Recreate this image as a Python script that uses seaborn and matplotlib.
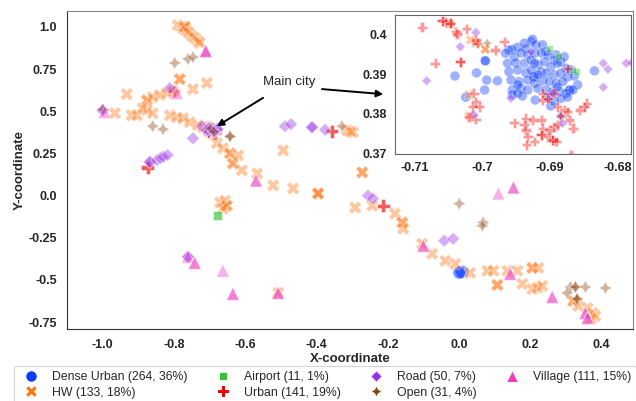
import numpy as np
import pandas as pd
import matplotlib
matplotlib.use("Agg")
import matplotlib.pyplot as plt
import seaborn as sns

# category labels as they appear in the legend
categories = ["Dense Urban (264, 36%)", "HW (133, 18%)", "Airport (11, 1%)", "Urban (141, 19%)",
              "Road (50, 7%)", "Open (31, 4%)", "Village (111, 15%)"]
colors = ["#0a3cff", "#ff7412", "#2ec52e", "#f00000", "#9630e6", "#8b4513", "#ec3cc0"]

# Dense Urban - almost all inside the main city cluster
dense_x = [-0.6996, -0.6996, -0.7041, -0.7025, -0.7009, -0.6994, -0.6978, -0.6997, -0.6922, -0.6899,
           -0.6834, -0.6924, -0.6924, -0.6871, -0.6871,
           -0.6948, -0.6938, -0.6928, -0.6926, -0.6936, -0.6921, -0.6911, -0.6906, -0.6891, -0.6956,
           -0.6961, -0.6966, -0.6953, -0.6943, -0.6933, -0.6923, -0.6913, -0.6903, -0.6894, -0.6884,
           -0.6879, -0.6963, -0.6951, -0.6938, -0.6928, -0.6918, -0.6908, -0.6899, -0.6889, -0.6876,
           -0.6869, -0.6961, -0.6948, -0.6936, -0.6913, -0.6906, -0.6894, -0.6884, -0.6874, -0.6864,
           -0.6958, -0.6946, -0.6933, -0.6923, -0.6911, -0.6901, -0.6891, -0.6881, -0.6859, -0.6956,
           -0.6943, -0.6933, -0.6918, -0.6906, -0.6896, -0.6886, -0.6876, -0.6866, -0.6956, -0.6948,
           -0.6941, -0.6903, -0.6894, -0.6884, -0.6874, -0.6889, -0.6923, -0.6928, -0.6918, -0.6948,
           0.008, 0.008, 0.003, 0.0]
dense_y = [0.3933, 0.3933, 0.3895, 0.3842, 0.3903, 0.3885, 0.3883, 0.3860, 0.3835, 0.3820,
           0.3908, 0.3893, 0.3893, 0.3860, 0.3860,
           0.3967, 0.3977, 0.3981, 0.3987, 0.3964, 0.3973, 0.3973, 0.3956, 0.3948, 0.3962,
           0.3960, 0.3952, 0.3943, 0.3953, 0.3948, 0.3952, 0.3953, 0.3948, 0.3935, 0.3931,
           0.3943, 0.3927, 0.3928, 0.3927, 0.3935, 0.3923, 0.3931, 0.3918, 0.3927, 0.3914,
           0.3910, 0.3906, 0.3910, 0.3903, 0.3906, 0.3902, 0.3898, 0.3902, 0.3893, 0.3895,
           0.3885, 0.3881, 0.3885, 0.3877, 0.3883, 0.3881, 0.3877, 0.3881, 0.3873, 0.3860,
           0.3864, 0.3860, 0.3864, 0.3860, 0.3856, 0.3856, 0.3852, 0.3860, 0.3848, 0.3852,
           0.3845, 0.3843, 0.3831, 0.3839, 0.3842, 0.3868, 0.3927, 0.3910, 0.3898, 0.3873,
           -0.452, -0.452, -0.455, -0.458]

hw_x = [-0.79, -0.778, -0.772, -0.77, -0.77, -0.764, -0.758, -0.75, -0.742, -0.733, -0.728,
        -0.784, -0.784, -0.708, -0.747, -0.933, -0.876, -0.876, -0.86, -0.84, -0.82, -0.803,
        -0.966, -0.919, -0.904, -0.876, -0.86, -0.888, -0.812, -0.792, -0.775, -0.756, -0.733, -0.719,
        -0.68, -0.663, -0.643, -0.643, -0.635, -0.635, -0.62, -0.61, -0.567, -0.522, -0.466,
        -0.396, -0.396, -0.396, -0.494, -0.315, -0.298, -0.305, -0.272, -0.272, -0.292, -0.244,
        -0.18, -0.16, -0.16, -0.157, -0.671, -0.657, -0.652, -0.652, -0.663, -0.508,
        -0.104, -0.076, -0.039, -0.011, 0.031, 0.079, 0.096, 0.135, 0.163, 0.205, 0.205, 0.222,
        0.107, 0.107, 0.177, 0.205, 0.219, 0.233, 0.32, 0.32, 0.334, 0.36, 0.374, 0.382, 0.37,
        -0.7048, -0.7018, -0.7010, -0.6996, -0.6996, -0.7020, -0.7020]
hw_y = [1.01, 1.0, 0.988, 1.0, 1.0, 0.976, 0.964, 0.946, 0.935, 0.917, 0.905,
        0.69, 0.69, 0.667, 0.631, 0.601, 0.565, 0.565, 0.583, 0.595, 0.607, 0.619,
        0.488, 0.476, 0.476, 0.506, 0.488, 0.518, 0.476, 0.464, 0.458, 0.435, 0.417, 0.405,
        0.31, 0.28, 0.25, 0.25, 0.19, 0.19, 0.238, 0.149, 0.131, 0.06, 0.042,
        0.012, 0.012, 0.012, 0.268, 0.387, 0.375, 0.38, 0.137, 0.137, -0.071, -0.06,
        -0.107, -0.16, -0.16, -0.196, -0.042, -0.03, -0.06, -0.06, -0.077, -0.577,
        -0.286, -0.345, -0.387, -0.405, -0.458, -0.446, -0.446, -0.446, -0.446, -0.429, -0.429, -0.429,
        -0.53, -0.53, -0.524, -0.554, -0.548, -0.536, -0.625, -0.625, -0.655, -0.667, -0.696, -0.714, -0.73,
        0.4025, 0.3985, 0.3977, 0.3962, 0.3962, 0.3848, 0.3795]

airport_x = [-0.6901, -0.6888, -0.6866, -0.6861, -0.677, -0.677]
airport_y = [0.3964, 0.3943, 0.3910, 0.3906, -0.119, -0.119]

urban_x = [-0.874, -0.874, -0.357, -0.357, -0.213, -0.213, -0.8,
           -0.7090, -0.7060, -0.7060, -0.7055, -0.7048, -0.7048, -0.7040, -0.7038, -0.7024, -0.7010,
           -0.7008, -0.6968, -0.6981, -0.7033, -0.7033, -0.7070, -0.7013, -0.7010, -0.7015, -0.7005,
           -0.7020, -0.7010, -0.6953, -0.6936, -0.6938, -0.6936, -0.6933, -0.6935, -0.6923, -0.6926,
           -0.6913, -0.6911, -0.6913, -0.6913, -0.6903, -0.6896, -0.6896, -0.6891, -0.6901, -0.6894,
           -0.6889, -0.6884, -0.6879, -0.6874, -0.6871, -0.6866, -0.6856, -0.6846, -0.6849, -0.6911,
           -0.6911, -0.6903, -0.6894, -0.6889, -0.6869, -0.6874]
urban_y = [0.167, 0.167, 0.381, 0.381, -0.06, -0.06, 0.62,
           0.4017, 0.4033, 0.4033, 0.4031, 0.4027, 0.4027, 0.4006, 0.4000, 0.4013, 0.3985,
           0.3977, 0.3981, 0.3960, 0.3931, 0.3931, 0.3927, 0.3852, 0.3831, 0.3818, 0.3818,
           0.3793, 0.3787, 0.3778, 0.3789, 0.3773, 0.3760, 0.3743, 0.3723, 0.3731, 0.3785,
           0.3785, 0.3764, 0.3748, 0.3748, 0.3743, 0.3735, 0.3735, 0.3731, 0.3760, 0.3768,
           0.3773, 0.3793, 0.3810, 0.3806, 0.3785, 0.3764, 0.3810, 0.3827, 0.3818, 0.3852,
           0.3835, 0.3839, 0.3852, 0.3818, 0.3698, 0.3914]

road_x = [-1.0, -1.0, -0.812, -0.747, -0.868, -0.868, -0.848, -0.838, -0.83, -0.818, -0.722,
          -0.489, -0.472, -0.413, -0.413, -0.376, -0.256, -0.242, -0.042, -0.017, -0.761, -0.761,
          -0.7010, -0.7033, -0.7083, -0.6821, -0.6814, -0.6787, -0.6779, -0.6821, -0.6958,
          -0.6896, -0.6884, -0.6881, -0.7013, -0.6928]
road_y = [0.506, 0.506, 0.637, 0.339, 0.196, 0.2, 0.21, 0.222, 0.23, 0.24, 0.411,
          0.411, 0.423, 0.405, 0.405, 0.39, 0.0, -0.018, -0.268, -0.256, -0.363, -0.363,
          0.4004, 0.3968, 0.3883, 0.3927, 0.3912, 0.3927, 0.3928, 0.3867, 0.3839,
          0.3852, 0.3795, 0.3777, 0.3798, 0.3956]

open_x = [-0.798, -0.761, -0.747, -0.86, -0.831, -0.643, -0.643, -0.329, 0.0, 0.067, 0.065,
          0.312, 0.326, 0.326, 0.354, 0.41, 0.303, 0.331, 0.331, -1.0, -0.6993, -0.6884]
open_y = [0.786, 0.81, 0.821, 0.411, 0.393, 0.351, 0.351, 0.411, -0.048, -0.16, -0.179,
          -0.542, -0.542, -0.542, -0.542, -0.548, -0.577, -0.613, -0.613, 0.51, 0.3977, 0.3795]

village_x = [-0.711, -0.711, -0.711, -0.792, -0.995, -0.57, -0.57, -0.761, -0.742, -0.742, -0.663,
             -0.635, -0.635, -0.508, -0.508, 0.11, 0.152, 0.152, -0.101, -0.101, 0.143, 0.143,
             0.261, 0.261, 0.354, 0.354, 0.36, 0.36]
village_y = [0.857, 0.857, 0.857, 0.607, 0.495, 0.089, 0.089, -0.363, -0.399, -0.399, -0.446,
             -0.583, -0.583, -0.577, -0.577, 0.012, 0.048, 0.048, -0.298, -0.298, -0.464, -0.464,
             -0.601, -0.601, -0.696, -0.696, -0.726, -0.726]

xs = [dense_x, hw_x, airport_x, urban_x, road_x, open_x, village_x]
ys = [dense_y, hw_y, airport_y, urban_y, road_y, open_y, village_y]
df = pd.concat([pd.DataFrame({"x": a, "y": b, "Type": c}) for a, b, c in zip(xs, ys, categories)],
               ignore_index=True)

sns.set_style("white")
plt.rcParams["font.family"] = ["Liberation Sans", "DejaVu Sans"]
plt.rcParams["axes.unicode_minus"] = False

fig = plt.figure(figsize=(6.36, 4.01), dpi=100)
ax = fig.add_axes([0.105, 0.18, 0.89, 0.793])
pal = dict(zip(categories, colors))

sns.scatterplot(data=df, x="x", y="y", hue="Type", style="Type", hue_order=categories,
                style_order=categories, palette=pal, s=85, alpha=0.4, ax=ax)
ax.set_xlim(-1.101, 0.487)
ax.set_ylim(-0.79, 1.095)
xt = [-1.0, -0.8, -0.6, -0.4, -0.2, 0.0, 0.2, 0.4]
yt = [-0.75, -0.5, -0.25, 0.0, 0.25, 0.5, 0.75, 1.0]
ax.set_xticks(xt)
ax.set_xticklabels([f"{v:.1f}" for v in xt], fontweight="bold", fontsize=9)
ax.set_yticks(yt)
ax.set_yticklabels(["-0.75", "-0.5", "-0.25", "0.0", "0.25", "0.5", "0.75", "1.0"],
                   fontweight="bold", fontsize=9)
ax.set_xlabel("X-coordinate", fontweight="bold", fontsize=9.5, labelpad=2)
ax.set_ylabel("Y-coordinate", fontweight="bold", fontsize=9.5, labelpad=2)
for side in ["left", "bottom"]:
    ax.spines[side].set_color("#333333")
for side in ["top", "right"]:
    ax.spines[side].set_color("#888888")

# legend below the plot, full opacity markers
handles, labels = ax.get_legend_handles_labels()
ax.get_legend().remove()
for h in handles:
    h.set_alpha(1)
leg = fig.legend(handles, labels, loc="upper left", bbox_to_anchor=(0.022, 0.087), ncol=4,
                 fontsize=8.8, frameon=True, handletextpad=0.7, columnspacing=1.9,
                 borderaxespad=0, labelspacing=0.3, edgecolor="#cccccc", markerscale=0.9)
leg.get_frame().set_linewidth(0.8)

# annotation
ax.annotate("Main city", xy=(-0.68, 0.411), xytext=(-0.478, 0.673), ha="center", va="center",
            fontsize=9.5, arrowprops=dict(arrowstyle="-|>", color="black", lw=1.4,
                                          shrinkA=9, shrinkB=0, mutation_scale=10))
ax.annotate("", xy=(-0.213, 0.601), xytext=(-0.385, 0.631),
            arrowprops=dict(arrowstyle="-|>", color="black", lw=1.4,
                            shrinkA=0, shrinkB=0, mutation_scale=10))

# zoomed inset on the main city
ins = fig.add_axes([0.621, 0.616, 0.371, 0.347])
ins.set_facecolor("white")
sns.scatterplot(data=df, x="x", y="y", hue="Type", style="Type", hue_order=categories,
                style_order=categories, palette=pal, s=50, alpha=0.4, legend=False, ax=ins)
ins.set_xlim(-0.713, -0.678)
ins.set_ylim(0.37, 0.4048)
ins.set_xticks([-0.71, -0.70, -0.69, -0.68])
ins.set_xticklabels(["-0.71", "-0.7", "-0.69", "-0.68"], fontweight="bold", fontsize=9)
ins.set_yticks([0.37, 0.38, 0.39, 0.40])
ins.set_yticklabels(["0.37", "0.38", "0.39", "0.4"], fontweight="bold", fontsize=9)
ins.set_xlabel("")
ins.set_ylabel("")
ins.tick_params(pad=2)
for sp in ins.spines.values():
    sp.set_color("#666666")

fig.savefig("out.png", dpi=100)
